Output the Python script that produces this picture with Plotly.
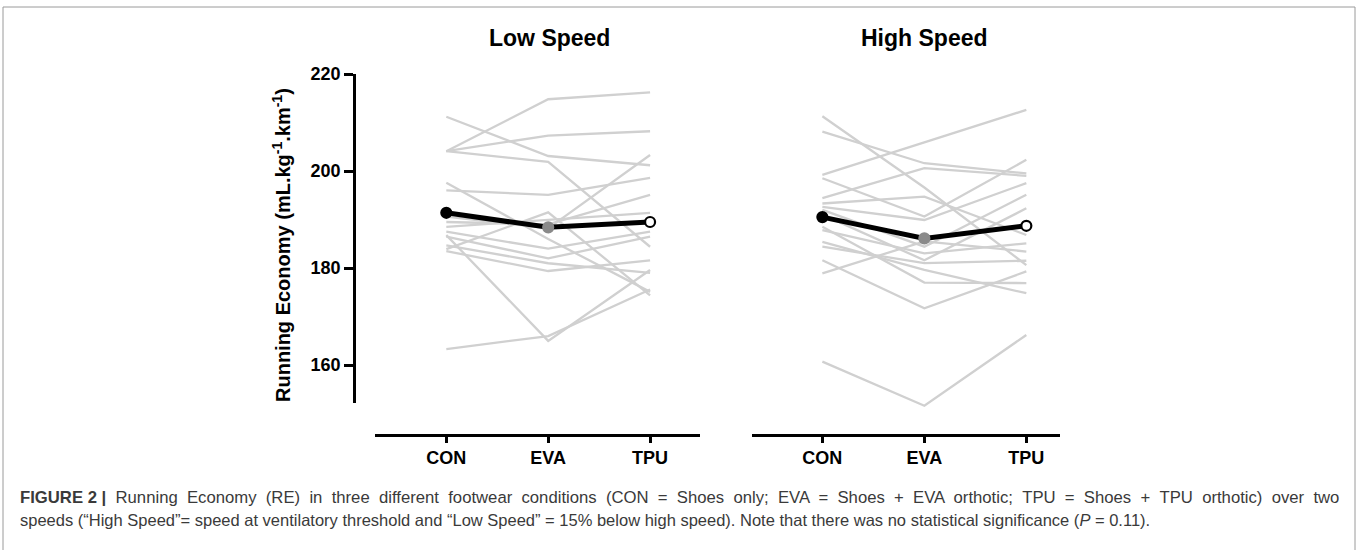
import plotly.graph_objects as go

# ---------------- data ----------------
conditions = ["CON", "EVA", "TPU"]

low_con = [204.1, 204.1, 204.1, 211.2, 196.0, 197.6, 190.6, 186.8, 163.3, 183.5, 189.5, 188.5, 187.5, 186.5, 184.7, 183.9]
low_eva = [214.8, 207.3, 201.9, 203.1, 195.1, 186.0, 188.2, 165.0, 166.0, 179.4, 189.0, 190.0, 184.0, 182.0, 181.0, 191.5]
low_tpu = [216.2, 208.2, 184.4, 201.2, 198.6, 175.1, 203.3, 179.6, 175.6, 181.6, 195.1, 191.4, 187.5, 186.5, 179.0, 174.4]

high_con = [199.2, 211.3, 208.1, 194.4, 198.5, 193.3, 192.6, 192.0, 191.0, 188.5, 187.8, 185.4, 184.4, 181.6, 178.9, 160.7]
high_eva = [205.9, 196.6, 201.6, 200.6, 190.6, 194.7, 189.9, 184.4, 181.6, 177.0, 183.0, 179.6, 181.0, 171.7, 185.5, 151.6]
high_tpu = [212.6, 180.6, 199.5, 199.0, 202.3, 186.8, 197.5, 195.1, 192.3, 176.9, 185.1, 174.8, 181.5, 179.3, 183.4, 166.2]

low_mean = [191.4, 188.4, 189.5]
high_mean = [190.5, 186.1, 188.7]

y_ticks = [160, 180, 200, 220]
panel_titles = ["Low Speed", "High Speed"]
y_title = "<b>Running Economy (mL.kg<sup>-1</sup>.km<sup>-1</sup>)</b>"
caption_1 = ("<b>FIGURE 2 |</b> Running Economy (RE) in three different footwear conditions "
             "(CON = Shoes only; EVA = Shoes + EVA orthotic; TPU = Shoes + TPU orthotic) over two")
caption_2 = ("speeds (\u201cHigh Speed\u201d= speed at ventilatory threshold and \u201cLow Speed\u201d = "
             "15% below high speed). Note that there was no statistical significance (<i>P</i> = 0.11).")

# ---------------- figure ----------------
W, H = 1360, 550
def px(x):
    return x / W
def py(y):
    return 1 - y / H

GREY = "#d0d0d0"
FONT = "Liberation Sans, Arial, sans-serif"
CAP_FONT = "Liberation Sans, Arial, sans-serif"

# justified first caption line: widen each word gap with a non-breaking space
caption_1_justified = caption_1.replace(" ", " \u00a0").replace("<b>FIGURE \u00a02 \u00a0|</b>", "<b>FIGURE 2 |</b>")

fig = go.Figure()

def add_panel(con, eva, tpu, mean, xa, ya):
    for c, e, t in zip(con, eva, tpu):
        fig.add_trace(go.Scatter(x=conditions, y=[c, e, t], mode="lines",
                                 line=dict(color=GREY, width=2.3),
                                 hoverinfo="skip", showlegend=False,
                                 xaxis=xa, yaxis=ya))
    fig.add_trace(go.Scatter(x=conditions, y=mean, mode="lines+markers",
                             line=dict(color="black", width=5),
                             marker=dict(size=10,
                                         color=["black", "#8a8a8a", "white"],
                                         line=dict(color=["black", "#8a8a8a", "black"], width=2.2)),
                             showlegend=False, xaxis=xa, yaxis=ya, cliponaxis=False))

add_panel(low_con, low_eva, low_tpu, low_mean, "x", "y")
add_panel(high_con, high_eva, high_tpu, high_mean, "x2", "y2")

tickfont = dict(family=FONT, size=18, color="black", weight="bold")
xaxis_common = dict(type="category", anchor="free", position=py(435),
                    showline=True, linewidth=2.5, linecolor="black",
                    ticks="outside", ticklen=6, tickwidth=2.5, tickcolor="black",
                    showgrid=False, zeroline=False, tickfont=tickfont, fixedrange=True,
                    automargin=False)

fig.update_layout(
    width=W, height=H,
    margin=dict(l=0, r=0, t=0, b=0, pad=0, autoexpand=False),
    paper_bgcolor="white", plot_bgcolor="rgba(0,0,0,0)",
    xaxis=dict(domain=[px(375), px(700)], range=[-0.70, 2.49], **xaxis_common),
    xaxis2=dict(domain=[px(752), px(1060)], range=[-0.69, 2.33], **xaxis_common),
    yaxis=dict(domain=[py(403), py(74)], range=[152.2, 220], anchor="free", position=px(354),
               showline=True, linewidth=2.5, linecolor="black",
               ticks="outside", ticklen=9, tickwidth=2.5, tickcolor="black",
               tickvals=y_ticks, showgrid=False, zeroline=False, tickfont=tickfont,
               automargin=False, fixedrange=True),
    yaxis2=dict(domain=[py(435), py(74)], range=[145.57, 220], anchor="free", position=px(752),
                visible=False, fixedrange=True),
    showlegend=False,
)

annotations = [
    dict(text=f"<b>{panel_titles[0]}</b>", x=px(549), y=py(38), xref="paper", yref="paper",
         xanchor="center", yanchor="middle",
         showarrow=False, font=dict(family=FONT, size=23, color="black")),
    dict(text=f"<b>{panel_titles[1]}</b>", x=px(924), y=py(38), xref="paper", yref="paper",
         xanchor="center", yanchor="middle",
         showarrow=False, font=dict(family=FONT, size=23, color="black")),
    dict(text=y_title, x=px(281), y=py(245), xref="paper", yref="paper", textangle=-90,
         xanchor="center", yanchor="middle",
         showarrow=False, font=dict(family=FONT, size=20, color="black")),
    dict(text=caption_1_justified, x=px(18), y=py(498), xref="paper", yref="paper",
         xanchor="left", yanchor="middle",
         showarrow=False, font=dict(family=CAP_FONT, size=16.7, color="#3a3a3a")),
    dict(text=caption_2, x=px(18), y=py(520), xref="paper", yref="paper",
         xanchor="left", yanchor="middle",
         showarrow=False, font=dict(family=CAP_FONT, size=16.5, color="#3a3a3a")),
]
fig.update_layout(annotations=annotations)

fig.add_shape(type="rect", xref="paper", yref="paper",
              x0=px(3), x1=px(1355), y0=py(560), y1=py(7),
              line=dict(color="#9a9a9a", width=1), layer="below")

fig.write_html("out.html", config={"displayModeBar": False},
               post_script="document.body.style.margin='0';")
